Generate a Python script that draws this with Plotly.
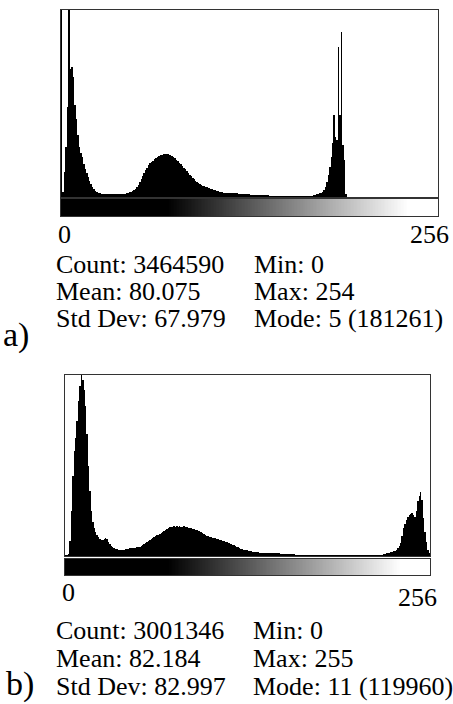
import plotly.graph_objects as go

# ---------------- data (histogram heights) ----------------
bins = list(range(256))

hist_a = [
    190, 5, 25, 50, 90, 190, 128, 130, 120, 92, 78, 62, 50, 44, 40, 33,
    28, 24, 20, 16, 13, 10, 8, 6, 5, 4, 4, 3, 3, 3, 3, 3,
    3, 3, 3, 3, 3, 3, 3, 3, 3, 3, 3, 3, 4, 4, 5, 5,
    6, 7, 8, 10, 12, 15, 18, 21, 24, 27, 29, 32, 34, 35, 36, 38,
    39, 40, 41, 42, 42, 43, 43, 43, 43, 42, 42, 41, 40, 39, 37, 36,
    34, 33, 31, 29, 28, 26, 24, 22, 21, 19, 18, 16, 15, 14, 13, 12,
    11, 11, 10, 10, 9, 8, 8, 7, 7, 6, 6, 5, 5, 5, 4, 4,
    4, 4, 4, 4, 4, 4, 4, 4, 3, 3, 3, 3, 3, 3, 3, 3,
    2, 2, 2, 2, 2, 2, 2, 2, 2, 2, 2, 2, 2, 1, 1, 1,
    1, 1, 1, 1, 1, 1, 1, 1, 1, 1, 1, 1, 1, 1, 1, 1,
    1, 1, 1, 1, 1, 1, 1, 1, 1, 1, 1, 2, 2, 3, 3, 4,
    4, 5, 7, 10, 15, 22, 30, 40, 54, 82, 60, 57, 150, 82, 165, 52,
    37, 3, 0.5, 0.2, 0.1, 0.1, 0.1, 0.1, 0.1, 0.1, 0.1, 0.1, 0.1, 0.1, 0.1, 0.1,
    0.1, 0.1, 0.1, 0.1, 0.1, 0.1, 0.1, 0.1, 0.1, 0.1, 0.1, 0.1, 0.1, 0.1, 0.1, 0.1,
    0.1, 0.1, 0.1, 0.1, 0.1, 0.1, 0.1, 0.1, 0.1, 0.1, 0.1, 0.1, 0.1, 0.1, 0.1, 0.1,
    0.1, 0.1, 0.1, 0.1, 0.1, 0.1, 0.1, 0.1, 0.1, 0.1, 0.1, 0.1, 0.1, 0.1, 0.1, 0,
]

hist_b = [
    1, 1, 2, 15, 45, 80, 105, 118, 135, 155, 170, 185, 176, 166, 150, 122,
    90, 65, 45, 34, 28, 24, 21, 19, 17, 16, 16, 17, 18, 17, 14, 12,
    10, 9, 8, 7, 7, 6, 6, 6, 6, 6, 7, 7, 7, 8, 8, 8,
    8, 8, 9, 9, 9, 10, 11, 12, 13, 14, 15, 16, 17, 18, 19, 20,
    21, 21, 22, 23, 24, 25, 26, 27, 28, 29, 29, 29, 30, 29, 30, 29,
    30, 29, 29, 30, 29, 29, 28, 28, 28, 27, 27, 26, 26, 25, 25, 24,
    23, 22, 21, 20, 20, 19, 19, 18, 18, 18, 17, 17, 16, 16, 15, 15,
    14, 14, 13, 13, 12, 11, 11, 10, 9, 9, 8, 7, 7, 6, 6, 6,
    5, 5, 5, 4, 4, 4, 4, 4, 3, 3, 3, 3, 3, 3, 3, 3,
    3, 3, 3, 3, 3, 3, 3, 2, 2, 2, 2, 2, 2, 2, 2, 2,
    2, 1.5, 1.5, 1.5, 1.5, 1.5, 1.5, 1.5, 1.5, 1.5, 1.5, 1.5, 1.5, 1.5, 1.5, 1.5,
    1.5, 1.5, 1.5, 1.5, 1.5, 1.5, 1.5, 1.5, 1.5, 1.5, 1.5, 1.5, 1.5, 1.5, 1.5, 1.5,
    1.5, 1.5, 1.5, 1.5, 1.5, 1.5, 1.5, 1.5, 1.5, 1.5, 1.5, 1.5, 1.5, 1.5, 1.5, 1.5,
    1.5, 1.5, 1.5, 1.5, 1.5, 1.5, 1.5, 1.5, 1.5, 1.5, 1.5, 1.5, 1.5, 1.5, 1.5, 2,
    2, 3, 3, 3, 4, 4, 5, 5, 6, 8, 10, 13, 20, 28, 32, 36,
    39, 41, 42, 43, 41, 39, 45, 55, 60, 64, 56, 38, 24, 14, 6, 3,
]

ymax_a = 187
ymax_b = 181

lut_black_end = 72
lut_white_start = 235

stats_a = [("Count: 3464590", "Min: 0"), ("Mean: 80.075", "Max: 254"),
           ("Std Dev: 67.979", "Mode: 5 (181261)")]
stats_b = [("Count: 3001346", "Min: 0"), ("Mean: 82.184", "Max: 255"),
           ("Std Dev: 82.997", "Mode: 11 (119960)")]
range_labels = ("0", "256")
panel_labels = ("a)", "b)")

# ---------------- layout helpers ----------------
W, H = 453, 704
def px(x):
    return x / W
def py(y):
    return 1 - y / H

FONT = "Liberation Serif"
FRAME = "#333333"

fig = go.Figure()

lut_scale = [[0, "#000000"], [lut_black_end / 255, "#000000"],
             [lut_white_start / 255, "#ffffff"], [1, "#ffffff"]]

fig.add_trace(go.Bar(x=bins, y=hist_a, marker=dict(color="black", line=dict(width=0)),
                     xaxis="x", yaxis="y", hoverinfo="skip"))
fig.add_trace(go.Heatmap(z=[bins], x=bins, colorscale=lut_scale, zmin=0, zmax=255,
                         showscale=False, xaxis="x2", yaxis="y2", hoverinfo="skip"))
fig.add_trace(go.Bar(x=bins, y=hist_b, marker=dict(color="black", line=dict(width=0)),
                     xaxis="x3", yaxis="y3", hoverinfo="skip"))
fig.add_trace(go.Heatmap(z=[bins], x=bins, colorscale=lut_scale, zmin=0, zmax=255,
                         showscale=False, xaxis="x4", yaxis="y4", hoverinfo="skip"))

ax_common = dict(showgrid=False, zeroline=False, showticklabels=False, ticks="",
                 showline=True, mirror=True, linecolor=FRAME, linewidth=1, fixedrange=True)

# panel a geometry (pixels)
a_x0, a_x1, a_top, a_bot = 61, 438, 10, 197
a_lut_top, a_lut_bot = 199, 216
# panel b geometry
b_x0, b_x1, b_top, b_bot = 65, 430, 375, 556
b_lut_top, b_lut_bot = 559, 575

fig.update_layout(
    width=W, height=H, margin=dict(l=0, r=0, t=0, b=0),
    paper_bgcolor="white", plot_bgcolor="white", showlegend=False, bargap=0,
    xaxis=dict(domain=[px(a_x0), px(a_x1)], range=[-0.5, 255.5], anchor="y", **ax_common),
    yaxis=dict(domain=[py(a_bot), py(a_top)], range=[0, ymax_a], anchor="x", **ax_common),
    xaxis2=dict(domain=[px(a_x0), px(a_x1)], range=[-0.5, 255.5], anchor="y2", **ax_common),
    yaxis2=dict(domain=[py(a_lut_bot), py(a_lut_top)], anchor="x2", **ax_common),
    xaxis3=dict(domain=[px(b_x0), px(b_x1)], range=[-0.5, 255.5], anchor="y3", **ax_common),
    yaxis3=dict(domain=[py(b_bot), py(b_top)], range=[0, ymax_b], anchor="x3", **ax_common),
    xaxis4=dict(domain=[px(b_x0), px(b_x1)], range=[-0.5, 255.5], anchor="y4", **ax_common),
    yaxis4=dict(domain=[py(b_lut_bot), py(b_lut_top)], anchor="x4", **ax_common),
)

ann = []
def text(x, y, s, anchor="left", size=26):
    ann.append(dict(x=px(x), y=py(y), xref="paper", yref="paper", text=s,
                    showarrow=False, xanchor=anchor, yanchor="middle",
                    font=dict(family=FONT, size=size, color="black")))

# panel a texts
text(56, 234, range_labels[0])
text(451, 235, range_labels[1], anchor="right")
for i, (l, r) in enumerate(stats_a):
    text(54, 264 + 27 * i, l)
    text(252, 264 + 27 * i, r)
text(1, 335, panel_labels[0], size=34)

# panel b texts
text(60, 592, range_labels[0])
text(439, 597, range_labels[1], anchor="right")
for i, (l, r) in enumerate(stats_b):
    text(54, 630 + 28 * i, l)
    text(251, 630 + 28 * i, r)
text(4, 684, panel_labels[1], size=34)

fig.update_layout(annotations=ann)
fig.write_html("out.html", config={"staticPlot": True},
               post_script="document.body.style.margin='0px';")
